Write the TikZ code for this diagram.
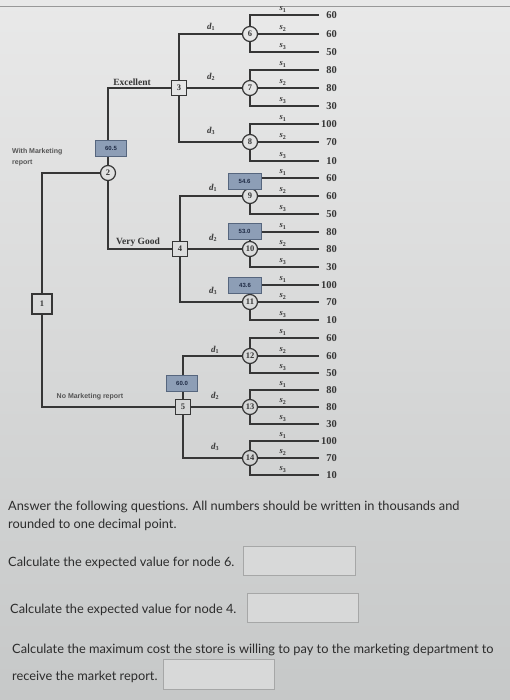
\documentclass[tikz,border=0pt]{standalone}
\usepackage{fontspec}
\setmainfont{Liberation Serif}
\newfontfamily\latof{Lato}
\newfontfamily\sansf{Liberation Sans}
\usetikzlibrary{calc}
\definecolor{bgtop}{HTML}{E9E9E9}
\definecolor{bgbot}{HTML}{C6C8C8}
\definecolor{treeline}{HTML}{363636}
\definecolor{boxfill}{HTML}{8D9EB6}
\definecolor{boxedge}{HTML}{56667E}
\definecolor{boxtext}{HTML}{1E2A44}
\definecolor{qtext}{HTML}{2C2C2C}
\definecolor{ansfill}{HTML}{D8D9D9}
\definecolor{ansedge}{HTML}{A6A7A7}
\newcommand{\sublab}[2]{#1\textsubscript{\upshape #2}}
\tikzset{
  branch/.style={draw=treeline, line width=1.2pt},
  chance/.style={circle, draw=treeline, line width=1.2pt, minimum size=15pt, inner sep=0pt, text=treeline, font=\fontsize{8.5}{8.5}\selectfont\bfseries},
  decision/.style={rectangle, draw=treeline, line width=1.2pt, minimum size=15pt, inner sep=0pt, text=treeline, font=\fontsize{8.5}{8.5}\selectfont\bfseries},
  evbox/.style={rectangle, draw=boxedge, line width=0.8pt, fill=boxfill, minimum width=31pt, minimum height=16pt, inner sep=0pt, text=boxtext, font=\sansf\fontsize{6}{6}\selectfont\bfseries},
  payoff/.style={anchor=east, inner sep=0pt, text=treeline, font=\fontsize{10.5}{11}\selectfont\bfseries},
  slab/.style={inner sep=0pt, text=treeline, font=\fontsize{8.5}{8.5}\selectfont\bfseries\itshape},
  dlab/.style={inner sep=0pt, text=treeline, font=\fontsize{9}{9}\selectfont\bfseries\itshape},
  branchlab/.style={inner sep=0pt, text=treeline, font=\fontsize{9.5}{10}\selectfont\bfseries},
  smallsans/.style={inner sep=0pt, text=treeline!85, font=\sansf\fontsize{7}{11}\selectfont\bfseries},
  question/.style={anchor=west, inner sep=0pt, text=qtext, font=\latof\fontsize{12.8}{14}\selectfont},
  answer/.style={draw=ansedge, fill=ansfill, line width=0.8pt}
}
\begin{document}
\begin{tikzpicture}[x=1pt,y=-1pt]
\useasboundingbox (0,0) rectangle (510,700);
\shade[top color=bgtop, bottom color=bgbot] (0,0) rectangle (510,700);
\draw[gray!80, line width=0.8pt] (0,6) -- (510,6);

% chance nodes
\foreach \n/\y in {6/34, 7/88, 8/142, 9/196, 10/249, 11/302, 12/356, 13/407, 14/458}
  \node[chance] (c\n) at (250,\y) {\n};

% end points and payoffs
\foreach \i/\y/\v in {1/15/60, 2/34/60, 3/52/50, 4/70/80, 5/88/80, 6/106/30, 7/124/100, 8/142/70, 9/161/10,
                      10/178/60, 11/196/60, 12/214/50, 13/232/80, 14/249/80, 15/267/30, 16/285/100, 17/302/70, 18/320/10,
                      19/338/60, 20/356/60, 21/373/50, 22/390/80, 23/407/80, 24/424/30, 25/441/100, 26/458/70, 27/475/10} {
  \coordinate (e\i) at (319,\y);
  \node[payoff] (v\i) at (337,\y) {\v};
}

% fans of state branches
\foreach \n/\a/\b/\c in {6/1/2/3, 7/4/5/6, 8/7/8/9, 9/10/11/12, 10/13/14/15, 11/16/17/18, 12/19/20/21, 13/22/23/24, 14/25/26/27} {
  \draw[branch] (c\n.north) |- (e\a);
  \draw[branch] (c\n.east) -- (e\b);
  \draw[branch] (c\n.south) |- (e\c);
  \path (e\a) ++(-36,-5.5) node[slab] {\sublab{s}{1}};
  \path (e\b) ++(-36,-5.5) node[slab] {\sublab{s}{2}};
  \path (e\c) ++(-36,-5.5) node[slab] {\sublab{s}{3}};
}

% decision nodes
\node[decision, minimum size=20pt] (sq1) at (42,304) {1};
\node[chance] (c2) at (108,173) {2};
\node[decision] (sq3) at (179,88) {3};
\node[decision] (sq4) at (180,249) {4};
\node[decision] (sq5) at (183,407) {5};

% decision branches
\foreach \s/\a/\b/\c in {3/6/7/8, 4/9/10/11, 5/12/13/14} {
  \draw[branch] (sq\s.north) |- (c\a.west);
  \draw[branch] (sq\s.east) -- (c\b.west);
  \draw[branch] (sq\s.south) |- (c\c.west);
}
\node[dlab] at (211,27) {\sublab{d}{1}};
\node[dlab] at (211,77) {\sublab{d}{2}};
\node[dlab] at (211,131) {\sublab{d}{3}};
\node[dlab] at (213,188) {\sublab{d}{1}};
\node[dlab] at (213,238) {\sublab{d}{2}};
\node[dlab] at (213,291) {\sublab{d}{3}};
\node[dlab] at (215,350) {\sublab{d}{1}};
\node[dlab] at (215,396) {\sublab{d}{2}};
\node[dlab] at (215,447) {\sublab{d}{3}};

% main branches
\draw[branch] (c2.west) -| (sq1.north);
\draw[branch] (sq1.south) |- (sq5.west);
\draw[branch] (c2.north) |- (sq3.west);
\draw[branch] (c2.south) |- (sq4.west);

\node[branchlab, anchor=south] (lexc) at (132,86) {Excellent};
\node[branchlab, anchor=south] (lvg) at (138,247) {Very Good};
\node[smallsans] (lno) at (90,397) {No Marketing report};
\node[smallsans, anchor=north west, align=left] (lwith) at (12,148) {With Marketing\\report};

% expected value boxes
\node[evbox] (b2) at (111,148.5) {60.5};
\node[evbox, minimum width=33pt] (b9) at (244.5,181) {54.6};
\node[evbox, minimum width=33pt] (b10) at (244.5,231.5) {53.0};
\node[evbox, minimum width=33pt] (b11) at (245,285) {43.6};
\node[evbox] (b5) at (182,383.5) {60.0};

% questions
\node[question] (q1) at (8,507) {Answer the following questions. All numbers should be written in thousands and};
\node[question] (q2) at (8,525) {rounded to one decimal point.};
\node[question] (q3) at (8,563) {Calculate the expected value for node 6.};
\node[question] (q4) at (10,610) {Calculate the expected value for node 4.};
\node[question] (q5) at (12,650) {Calculate the maximum cost the store is willing to pay to the marketing department to};
\node[question] (q6) at (12,677) {receive the market report.};
\draw[answer] (243,546) rectangle (355,575);
\draw[answer] (247,593) rectangle (358,622);
\draw[answer] (163,659) rectangle (274,689);
\end{tikzpicture}
\end{document}
